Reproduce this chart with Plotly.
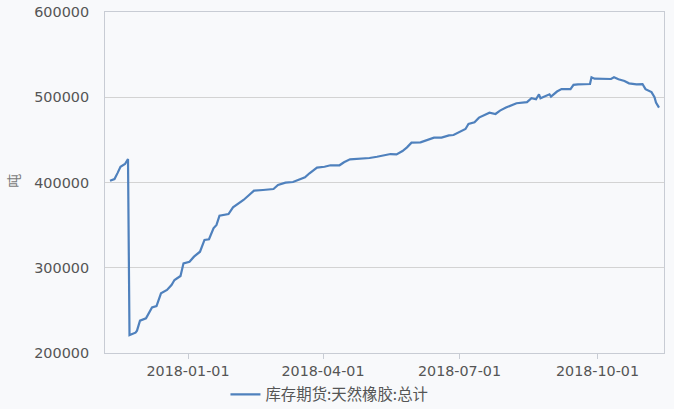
import plotly.graph_objects as go

dates = [
    "2017-11-10", "2017-11-13", "2017-11-15", "2017-11-17", "2017-11-20", "2017-11-22",
    "2017-11-23", "2017-11-27", "2017-11-28", "2017-11-30", "2017-12-04", "2017-12-06",
    "2017-12-08", "2017-12-11", "2017-12-14", "2017-12-18", "2017-12-21", "2017-12-23",
    "2017-12-27", "2017-12-29", "2018-01-02", "2018-01-05", "2018-01-09", "2018-01-12",
    "2018-01-15", "2018-01-18", "2018-01-20", "2018-01-22", "2018-01-28", "2018-01-31",
    "2018-02-04", "2018-02-07", "2018-02-10", "2018-02-14", "2018-02-20", "2018-02-27",
    "2018-03-02", "2018-03-07", "2018-03-12", "2018-03-15", "2018-03-20", "2018-03-23",
    "2018-03-28", "2018-04-02", "2018-04-06", "2018-04-12", "2018-04-15", "2018-04-19",
    "2018-04-26", "2018-05-02", "2018-05-07", "2018-05-11", "2018-05-16", "2018-05-20",
    "2018-05-24", "2018-05-27", "2018-05-30", "2018-06-05", "2018-06-08", "2018-06-14",
    "2018-06-19", "2018-06-24", "2018-06-27", "2018-06-30", "2018-07-05", "2018-07-07",
    "2018-07-11", "2018-07-14", "2018-07-18", "2018-07-21", "2018-07-25", "2018-07-28",
    "2018-08-01", "2018-08-08", "2018-08-15", "2018-08-18", "2018-08-21", "2018-08-23",
    "2018-08-24", "2018-08-28", "2018-08-30", "2018-08-31", "2018-09-04", "2018-09-07",
    "2018-09-13", "2018-09-15", "2018-09-18", "2018-09-26", "2018-09-27", "2018-09-29",
    "2018-10-04", "2018-10-10", "2018-10-12", "2018-10-15", "2018-10-19", "2018-10-22",
    "2018-10-27", "2018-10-31", "2018-11-02", "2018-11-06", "2018-11-08", "2018-11-09",
    "2018-11-11",
]

stock = [
    402000, 404000, 411000, 418500, 421700, 427600,
    221000, 223800, 226200, 237900, 240600, 246500,
    253500, 255000, 270000, 273900, 279800, 285600,
    290300, 305200, 307100, 313000, 318800, 332600,
    333400, 346300, 350200, 361000, 363000, 370900,
    375600, 379500, 384200, 390400, 391200, 392400,
    397100, 399800, 400600, 403000, 406100, 410800,
    417400, 418500, 420200, 420200, 423700, 427200,
    427900, 428700, 430200, 431800, 433400, 433000,
    436900, 441200, 446700, 447100, 449000, 452600,
    452600, 455300, 455700, 458400, 462800, 468600,
    470600, 476100, 479200, 481900, 480400, 484300,
    487900, 493000, 494200, 498800, 497700, 503500,
    498800, 501500, 503500, 500800, 506700, 509500,
    509500, 514500, 515200, 515500, 523400, 521800,
    521400, 521400, 523400, 521100, 519000, 516300,
    515200, 515500, 509500, 506000, 500100, 493800,
    487900,
]

series_name = "库存期货:天然橡胶:总计"
y_unit = "吨"
x_tick_vals = ["2018-01-01", "2018-04-01", "2018-07-01", "2018-10-01"]
x_tick_text = ["2018-01-01", "2018-04-01", "2018-07-01", "2018-10-01"]
x_range = ["2017-11-06 16:00", "2018-11-14 08:00"]
y_range = [200000, 600000]

font_family = "DejaVu Sans, Verdana, sans-serif"
label_color = "#555555"
bg = "#f8f9fb"

fig = go.Figure()
fig.add_trace(go.Scatter(
    x=dates, y=stock, mode="lines", name=series_name,
    line=dict(color="#4f81bd", width=2.2),
))

fig.update_layout(
    width=674, height=409,
    margin=dict(l=105, r=10, t=12, b=56, autoexpand=False),
    paper_bgcolor=bg, plot_bgcolor=bg,
    font=dict(family=font_family, size=13, color=label_color),
    showlegend=True,
    legend=dict(
        orientation="h", x=0.2155, xanchor="left", y=-0.123, yanchor="middle",
        font=dict(size=15.4, color=label_color, family="Noto Sans CJK SC, sans-serif"),
        bgcolor="rgba(0,0,0,0)",
    ),
    xaxis=dict(
        type="date", range=x_range, automargin=False,
        tickvals=x_tick_vals, ticktext=x_tick_text,
        ticks="outside", ticklen=5, tickcolor="#c8ccd4",
        showgrid=False, showline=True, linecolor="#c8ccd4", linewidth=1, mirror=True,
        tickfont=dict(size=14.3, color=label_color), zeroline=False,
    ),
    yaxis=dict(
        range=y_range, dtick=100000, tickformat="d", automargin=False,
        showgrid=True, gridcolor="#d3d3d3", gridwidth=1,
        showline=True, linecolor="#c8ccd4", linewidth=1, mirror=True,
        ticks="", tickfont=dict(size=14.4, color=label_color), zeroline=False,
        ticklabelstandoff=12,
    ),
    annotations=[dict(
        text=y_unit, textangle=-90, xref="paper", yref="paper",
        x=-0.1646, y=0.505, xanchor="center", yanchor="middle", showarrow=False,
        font=dict(size=14, color="#7a7a7a", family="Noto Sans CJK SC, sans-serif"),
    )],
)

fig.write_html(
    "out.html",
    config={"displayModeBar": False},
    post_script="document.body.style.margin='0';document.body.style.background='#f8f9fb';",
)
